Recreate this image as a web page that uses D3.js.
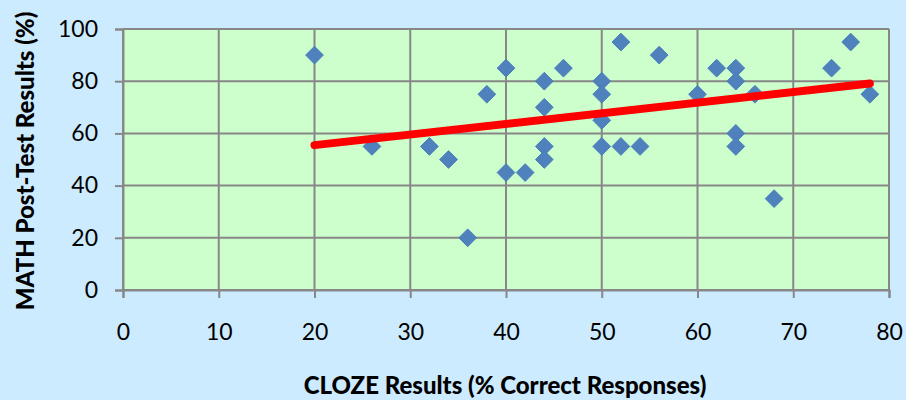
<!DOCTYPE html>
<html>
<head>
<meta charset="utf-8">
<script src="https://cdn.jsdelivr.net/npm/d3@7"></script>
<style>
  body { margin: 0; background: #cdebff; }
  text { font-family: Lato, "Noto Sans", sans-serif; }
</style>
</head>
<body>
<div id="chart"></div>
<script>
// CLOZE score (%) and matching MATH post-test score (%)
const cloze = [20, 26, 32, 34, 36, 38, 40, 40, 42, 44, 44, 44, 44, 46, 50, 50, 50, 50,
  52, 52, 54, 56, 60, 62, 64, 64, 64, 64, 66, 68, 74, 76, 78]
const math = [90, 55, 55, 50, 20, 75, 85, 45, 45, 80, 70, 55, 50, 85, 80, 75, 65, 55,
  95, 55, 55, 90, 75, 85, 85, 80, 60, 55, 75, 35, 85, 95, 75]

// linear trendline end points as drawn in the chart
const trendX = [20, 78]
const trendY = [55.5, 79.1]

const xTicks = [0, 10, 20, 30, 40, 50, 60, 70, 80]
const yTicks = [0, 20, 40, 60, 80, 100]

const width = 906, height = 400
const margin = {top: 29, right: 17, bottom: 110, left: 123}

const svg = d3.select("#chart").append("svg")
    .attr("width", width)
    .attr("height", height)
    .attr("viewBox", [0, 0, width, height])

svg.append("rect")
    .attr("width", width)
    .attr("height", height)
    .attr("fill", "#cdebff")

const x = d3.scaleLinear([0, 80], [margin.left, width - margin.right])
const y = d3.scaleLinear([0, 100], [height - margin.bottom, margin.top])

const grid = "#878787"

// plot area
svg.append("rect")
    .attr("x", x(0))
    .attr("y", y(100))
    .attr("width", x(80) - x(0))
    .attr("height", y(0) - y(100))
    .attr("fill", "#ccffcc")

// gridlines
svg.append("g")
    .selectAll("line")
    .data(xTicks)
    .join("line")
      .attr("x1", d => x(d)).attr("x2", d => x(d))
      .attr("y1", y(100)).attr("y2", y(0))
      .attr("stroke", grid).attr("stroke-width", 2)

svg.append("g")
    .selectAll("line")
    .data(yTicks)
    .join("line")
      .attr("x1", x(0)).attr("x2", x(80))
      .attr("y1", d => y(d)).attr("y2", d => y(d))
      .attr("stroke", grid).attr("stroke-width", 2)

// axes
svg.append("g")
    .attr("transform", `translate(0,${y(0)})`)
    .call(d3.axisBottom(x).tickValues(xTicks).tickSize(8).tickPadding(26))
    .call(g => g.select(".domain").attr("stroke", grid).attr("stroke-width", 2))
    .call(g => g.selectAll(".tick line").attr("stroke", grid).attr("stroke-width", 2))
    .call(g => g.selectAll(".tick text")
        .attr("font-size", 23).attr("fill", "#000")
        .attr("font-family", "Lato, sans-serif"))

svg.append("g")
    .attr("transform", `translate(${x(0)},0)`)
    .call(d3.axisLeft(y).tickValues(yTicks).tickSize(8).tickPadding(17))
    .call(g => g.select(".domain").attr("stroke", grid).attr("stroke-width", 2))
    .call(g => g.selectAll(".tick line").attr("stroke", grid).attr("stroke-width", 2))
    .call(g => g.selectAll(".tick text")
        .attr("font-size", 23).attr("fill", "#000")
        .attr("font-family", "Lato, sans-serif"))

// points
const diamond = d3.symbol(d3.symbolDiamond2, 200)
svg.append("g")
    .selectAll("path")
    .data(cloze.map((c, i) => [c, math[i]]))
    .join("path")
      .attr("transform", d => `translate(${x(d[0])},${y(d[1])})`)
      .attr("d", diamond)
      .attr("fill", "#4f81bd")
      .attr("stroke", "#4a7dba")
      .attr("stroke-width", 1)

// trendline
svg.append("path")
    .datum(trendX.map((t, i) => [t, trendY[i]]))
    .attr("fill", "none")
    .attr("stroke", "#ff0000")
    .attr("stroke-width", 8)
    .attr("stroke-linecap", "round")
    .attr("d", d3.line(d => x(d[0]), d => y(d[1])))

// titles
svg.append("text")
    .attr("x", 505)
    .attr("y", 394)
    .attr("text-anchor", "middle")
    .attr("font-size", 24)
    .attr("font-weight", 900)
    .text("CLOZE Results (% Correct Responses)")

svg.append("text")
    .attr("transform", "translate(34,161) rotate(-90)")
    .attr("text-anchor", "middle")
    .attr("font-size", 24)
    .attr("font-weight", 900)
    .text("MATH Post-Test Results (%)")
</script>
</body>
</html>
